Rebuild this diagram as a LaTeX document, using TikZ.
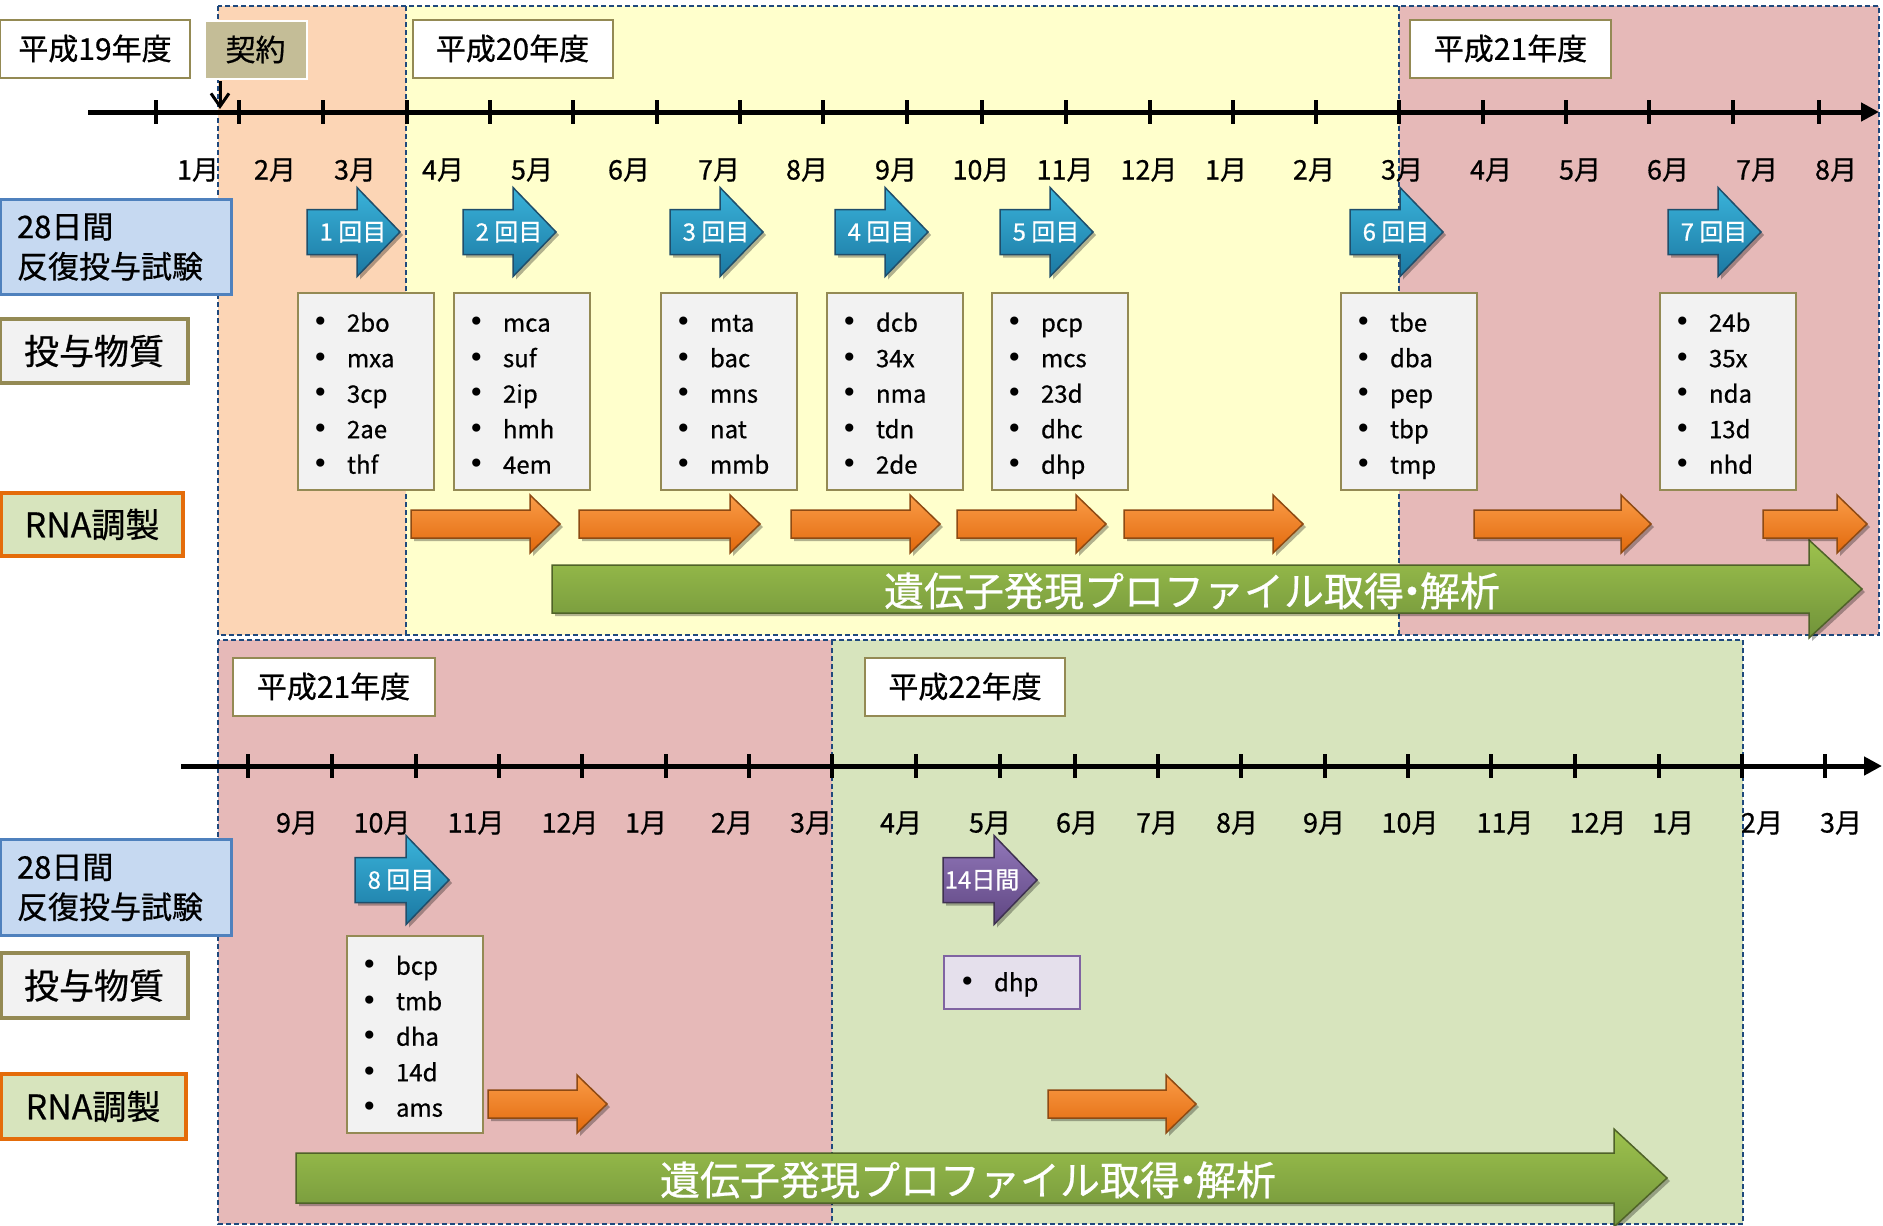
\documentclass[tikz,border=0pt]{standalone}
\usepackage{fontspec}
\setmainfont{Noto Sans CJK JP}[FakeBold=0.6]
\newfontfamily\bulletfont{DejaVu Sans}
\usetikzlibrary{arrows.meta,shadows}
\definecolor{cPeach}{HTML}{FCD5B5}
\definecolor{cYellow}{HTML}{FFFFCC}
\definecolor{cPink}{HTML}{E6B9B8}
\definecolor{cLGreen}{HTML}{D7E4BD}
\definecolor{cDash}{HTML}{1F497D}
\definecolor{cOlive}{HTML}{948A54}
\definecolor{cGrey}{HTML}{F2F2F2}
\definecolor{cTan}{HTML}{C4BD97}
\definecolor{cLBlue}{HTML}{C6D9F1}
\definecolor{cMBlue}{HTML}{4F81BD}
\definecolor{cOrange}{HTML}{E46C0A}
\definecolor{cLav}{HTML}{E5E0EC}
\definecolor{cPurp}{HTML}{8064A2}
\definecolor{cBlueTop}{HTML}{3AB3DA}
\definecolor{cBlueBot}{HTML}{1B78A2}
\definecolor{cBlueLine}{HTML}{1F4E6B}
\definecolor{cOrTop}{HTML}{FA9C48}
\definecolor{cOrBot}{HTML}{E2690C}
\definecolor{cOrLine}{HTML}{8E4A13}
\definecolor{cGrTop}{HTML}{9DC24D}
\definecolor{cGrBot}{HTML}{71933A}
\definecolor{cGrLine}{HTML}{4F6228}
\definecolor{cPuTop}{HTML}{9278BA}
\definecolor{cPuBot}{HTML}{5F4682}
\definecolor{cPuLine}{HTML}{3F3151}
\newcommand\fsz[2]{\fontsize{#1}{#2}\selectfont}
\newcommand\blockarr[7]{\path[#1] ({#2},{#4-#5}) -- ({#3-#7},{#4-#5}) -- ({#3-#7},{#4-#6}) -- ({#3},{#4}) -- ({#3-#7},{#4+#6}) -- ({#3-#7},{#4+#5}) -- ({#2},{#4+#5}) -- cycle;}
\newcommand\bitem[1]{\strut\makebox[35pt][l]{\bulletfont\fontsize{28}{35}\selectfont •}#1}
\newcommand\chemlist[5]{\bitem{#1}\\\bitem{#2}\\\bitem{#3}\\\bitem{#4}\\\bitem{#5}}
\begin{document}
\begin{tikzpicture}[x=1pt,y=-1pt,
  region/.style={draw=cDash, line width=2pt, dash pattern=on 5pt off 3pt},
  yearbox/.style={draw=cOlive, fill=white, line width=2pt, minimum height=58pt, inner sep=0pt, font=\fsz{30}{36}},
  lbox/.style={inner sep=0pt},
  chem/.style={draw=cOlive, fill=cGrey, line width=2pt, anchor=north west, minimum width=136pt, minimum height=197pt, inner xsep=14pt, inner ysep=0pt, text width=108pt, text height=33pt, align=left, font=\fsz{24}{35.5}},
  mon/.style={font=\fsz{27}{30}, inner sep=0pt},
  tick/.style={line width=4.5pt},
  axisline/.style={line width=5pt, -{Triangle[length=18pt,width=18pt]}},
  shad/.style={drop shadow={shadow xshift=3pt, shadow yshift=-3pt, opacity=0.3, fill=black}},
  bluearr/.style={shad, draw=cBlueLine, line width=1.5pt, top color=cBlueTop, bottom color=cBlueBot},
  orarr/.style={shad, draw=cOrLine, line width=1.5pt, top color=cOrTop, bottom color=cOrBot},
  grarr/.style={shad, draw=cGrLine, line width=1.5pt, top color=cGrTop, bottom color=cGrBot},
  puarr/.style={shad, draw=cPuLine, line width=1.5pt, top color=cPuTop, bottom color=cPuBot},
  alab/.style={text=white, font=\fsz{24}{28}, inner sep=0pt},
  glab/.style={text=white, font=\fsz{40}{44}, inner sep=0pt}
]
\useasboundingbox (0,0) rectangle (1883,1226);
\fill[white] (0,0) rectangle (1883,1226);
% ---------- regions ----------
\fill[cPeach] (218,6) rectangle (406,635);
\fill[cYellow] (406,6) rectangle (1399,635);
\fill[cPink] (1399,6) rectangle (1879,635);
\draw[region] (218,6) rectangle (1879,635);
\draw[region] (406,6) -- (406,635);
\draw[region] (1399,6) -- (1399,635);
\fill[cPink] (218,640) rectangle (832,1224);
\fill[cLGreen] (832,640) rectangle (1743,1224);
\draw[region] (218,640) rectangle (1743,1224);
\draw[region] (832,640) -- (832,1224);
% ---------- axes ----------
\coordinate (axAs) at (88,112);
\coordinate (axAe) at (1879,112);
\draw[axisline] (axAs) -- (axAe);
\foreach \x in {156,239,323,407,490,573,657,740,823,907,982,1066,1150,1233,1316,1399,1483,1566,1649,1733,1819}
  \draw[tick] (\x,100) -- (\x,124);
\coordinate (axBs) at (181,766);
\coordinate (axBe) at (1882,766);
\draw[axisline] (axBs) -- (axBe);
\foreach \x in {248,332,416,499,582,666,749,832,916,1000,1075,1158,1241,1325,1408,1491,1575,1659,1742,1825}
  \draw[tick] (\x,754) -- (\x,778);
% ---------- month labels ----------
\foreach \x/\m [count=\i] in {198/1,275/2,355/3,443/4,532/5,629/6,719/7,807/8,896/9,981/10,1065/11,1149/12,1226/1,1314/2,1402/3,1491/4,1580/5,1668/6,1757/7,1836/8}
  \node[mon] (ma\i) at (\x,170) {\m 月};
\foreach \x/\m [count=\i] in {297/9,382/10,476/11,570/12,646/1,732/2,811/3,901/4,990/5,1077/6,1157/7,1237/8,1324/9,1410/10,1505/11,1598/12,1673/1,1762/2,1841/3}
  \node[mon] (mb\i) at (\x,823) {\m 月};
% ---------- year boxes ----------
\node[yearbox, minimum width=190pt] (y19) at (95,48.5) {平成19年度};
\node[yearbox, minimum width=200pt] (y20) at (512.5,48.5) {平成20年度};
\node[yearbox, minimum width=201pt] (y21a) at (1510.5,48.5) {平成21年度};
\node[yearbox, minimum width=202pt] (y21b) at (333.5,686.5) {平成21年度};
\node[yearbox, minimum width=200pt] (y22) at (965,686.5) {平成22年度};
\node[fill=cTan, draw=white, line width=2pt, minimum width=102pt, minimum height=58pt, inner sep=0pt, font=\fsz{30}{36}] (kei) at (255.5,49.5) {契約};
\coordinate (k1) at (220,81);
\coordinate (k2) at (220,109);
\draw[line width=3pt, -{Straight Barb[length=13pt,width=18pt]}] (k1) -- (k2);
% ---------- left labels ----------
\node[lbox, fill=cLBlue, draw=cMBlue, line width=3pt, minimum width=231pt, minimum height=95pt, align=left, text width=197pt, inner xsep=17pt, font=\fsz{31}{40}] (t28a) at (115.5,247) {28日間\\反復投与試験};
\node[lbox, fill=cGrey, draw=cOlive, line width=4pt, minimum width=188pt, minimum height=64pt, font=\fsz{35}{40}] (dosea) at (94,351) {投与物質};
\node[lbox, fill=cLGreen, draw=cOrange, line width=4pt, minimum width=182pt, minimum height=63pt, font=\fsz{34}{40}] (rnaa) at (92,524.5) {RNA調製};
\node[lbox, fill=cLBlue, draw=cMBlue, line width=3pt, minimum width=231pt, minimum height=96pt, align=left, text width=197pt, inner xsep=17pt, font=\fsz{31}{40}] (t28b) at (115.5,887.5) {28日間\\反復投与試験};
\node[lbox, fill=cGrey, draw=cOlive, line width=4pt, minimum width=187pt, minimum height=65pt, font=\fsz{35}{40}] (doseb) at (94,985.5) {投与物質};
\node[lbox, fill=cLGreen, draw=cOrange, line width=4pt, minimum width=185pt, minimum height=65pt, font=\fsz{34}{40}] (rnab) at (93,1106.5) {RNA調製};
% ---------- substance lists ----------
\node[chem] (c1) at (297,292) {\chemlist{2bo}{mxa}{3cp}{2ae}{thf}};
\node[chem] (c2) at (453,292) {\chemlist{mca}{suf}{2ip}{hmh}{4em}};
\node[chem] (c3) at (660,292) {\chemlist{mta}{bac}{mns}{nat}{mmb}};
\node[chem] (c4) at (826,292) {\chemlist{dcb}{34x}{nma}{tdn}{2de}};
\node[chem] (c5) at (991,292) {\chemlist{pcp}{mcs}{23d}{dhc}{dhp}};
\node[chem] (c6) at (1340,292) {\chemlist{tbe}{dba}{pep}{tbp}{tmp}};
\node[chem] (c7) at (1659,292) {\chemlist{24b}{35x}{nda}{13d}{nhd}};
\node[chem] (c8) at (346,935) {\chemlist{bcp}{tmb}{dha}{14d}{ams}};
\node[chem, draw=cPurp, fill=cLav, minimum height=53pt, text width=106pt, text height=28pt] (c9) at (943,955) {\bitem{dhp}};
% ---------- green arrows ----------
\blockarr{grarr}{552}{1862}{589}{24}{49}{53}
\node[glab] (g1) at (1192,591) {遺伝子発現プロファイル取得\kern-0.3em・\kern-0.3em解析};
\blockarr{grarr}{296}{1667}{1178}{25}{49}{53}
\node[glab] (g2) at (968,1180) {遺伝子発現プロファイル取得\kern-0.3em・\kern-0.3em解析};
% ---------- orange arrows ----------
\foreach \a/\b in {411/560,579/760,791/940,957/1106,1124/1303,1474/1651,1763/1867}
  {\blockarr{orarr}{\a}{\b}{524}{14}{29}{30}}
\foreach \a/\b in {488/607,1048/1196}
  {\blockarr{orarr}{\a}{\b}{1104}{14}{29}{30}}
% ---------- blue arrows ----------
\foreach \l/\t [count=\i] in {307/1,463/2,670/3,835/4,1000/5,1350/6,1668/7}
  {\blockarr{bluearr}{\l}{\l+93}{232}{22.5}{44.5}{43}
   \node[alab] (r\i) at (\l+46,232) {\t\ 回目};}
\blockarr{bluearr}{355}{449}{880}{22.5}{44.5}{43}
\node[alab] (r8) at (401,880) {8 回目};
\blockarr{puarr}{943}{1037}{880}{22.5}{44.5}{43}
\node[alab] (d14) at (982,880) {14日間};
\end{tikzpicture}
\end{document}
